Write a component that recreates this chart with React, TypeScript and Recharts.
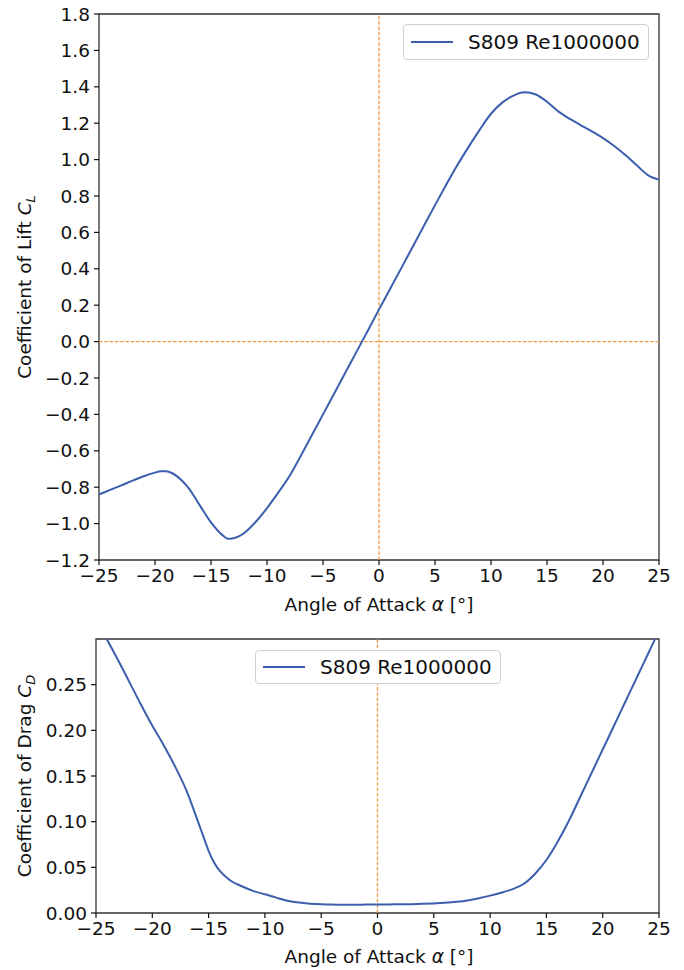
import React from 'react';
import {
  LineChart,
  Line,
  XAxis,
  YAxis,
  ReferenceLine,
  ReferenceArea,
  Legend,
} from 'recharts';

// angle of attack samples (deg)
const alphaLift = [
  -25, -24, -23, -22, -21, -20, -19.5, -19, -18.5, -18, -17.5, -17, -16, -15, -14, -13.5, -13, -12,
  -11, -10, -9, -8, -7, -6, -5, -4, -3, -2, -1, 0, 1, 2, 3, 4, 5, 6, 7, 8, 9, 10, 11, 12, 13, 14, 15,
  16, 17, 18, 19, 20, 21, 22, 23, 24, 25,
];
const liftCoeff = [
  -0.84, -0.815, -0.79, -0.764, -0.74, -0.72, -0.712, -0.712, -0.722, -0.742, -0.77, -0.805, -0.9,
  -0.993, -1.062, -1.083, -1.08, -1.05, -0.99, -0.915, -0.83, -0.74, -0.63, -0.515, -0.4, -0.285,
  -0.17, -0.055, 0.06, 0.177, 0.29, 0.405, 0.52, 0.635, 0.75, 0.862, 0.97, 1.07, 1.165, 1.252, 1.313,
  1.352, 1.37, 1.358, 1.318, 1.265, 1.225, 1.19, 1.155, 1.118, 1.075, 1.025, 0.97, 0.915, 0.89,
];

const alphaDrag = [
  -25, -24, -23, -22, -21, -20, -19, -18, -17, -16, -15.5, -15, -14.5, -14, -13.5, -13, -12, -11, -10,
  -9, -8, -7, -6, -5, -4, -3, -2, -1, 0, 1, 2, 3, 4, 5, 6, 7, 8, 9, 10, 11, 12, 13, 14, 15, 16, 17,
  18, 19, 20, 21, 22, 23, 24, 25,
];
const dragCoeff = [
  0.322, 0.299, 0.276, 0.252, 0.228, 0.205, 0.184, 0.161, 0.135, 0.102, 0.085, 0.068, 0.055, 0.046,
  0.04, 0.035, 0.029, 0.024, 0.0205, 0.0168, 0.0135, 0.0114, 0.0102, 0.0095, 0.0092, 0.0091, 0.0091,
  0.0092, 0.0093, 0.0094, 0.0095, 0.0097, 0.01, 0.0105, 0.0112, 0.0122, 0.0137, 0.0162, 0.019, 0.0222,
  0.0262, 0.032, 0.043, 0.058, 0.078, 0.101, 0.127, 0.153, 0.179, 0.205, 0.231, 0.257, 0.283, 0.309,
];

const alphaTicks = [-25, -20, -15, -10, -5, 0, 5, 10, 15, 20, 25];
const liftTicks = [-1.2, -1.0, -0.8, -0.6, -0.4, -0.2, 0, 0.2, 0.4, 0.6, 0.8, 1.0, 1.2, 1.4, 1.6, 1.8];
const dragTicks = [0, 0.05, 0.1, 0.15, 0.2, 0.25];

const seriesName = 'S809 Re1000000';

const liftData = alphaLift.map((a, i) => ({ alpha: a, cl: liftCoeff[i] }));
const dragData = alphaDrag.map((a, i) => ({ alpha: a, cd: dragCoeff[i] }));

const FONT = '"DejaVu Sans", sans-serif';
const BLUE = '#3c5fad';
const ORANGE = '#f39a45';
const INK = '#111';

const minus = (s: string) => s.replace('-', '\u2212');

const tickStyle = { fill: INK, fontSize: 18.5, fontFamily: FONT };

const LegendBox = ({ height }: { height: number }) => (
  <div
    style={{
      boxSizing: 'border-box',
      width: 246,
      height,
      border: '1px solid #d0d0d0',
      borderRadius: 4,
      background: '#fff',
      display: 'flex',
      alignItems: 'center',
      fontFamily: FONT,
      fontSize: 20,
      color: INK,
    }}
  >
    <svg width={50} height={10} style={{ marginLeft: 7 }}>
      <line x1={0} x2={42} y1={5} y2={5} stroke={BLUE} strokeWidth={2} />
    </svg>
    <span style={{ marginLeft: 7 }}>{seriesName}</span>
  </div>
);

const AlphaTitle = ({ y }: { y: number }) => (
  <text x={379} y={y} textAnchor="middle" fontFamily={FONT} fontSize={18.5} fill={INK}>
    Angle of Attack <tspan fontStyle="italic">α</tspan> [°]
  </text>
);

const CoeffTitle = ({ cy, name, sub }: { cy: number; name: string; sub: string }) => (
  <text
    transform={`translate(31, ${cy}) rotate(-90)`}
    textAnchor="middle"
    fontFamily={FONT}
    fontSize={18.5}
    fill={INK}
  >
    {name} <tspan fontStyle="italic">C</tspan>
    <tspan fontStyle="italic" fontSize={13} dy={4}>{sub}</tspan>
  </text>
);

export default function App() {
  return (
    <div style={{ position: 'absolute', left: 0, top: 0, width: 684, height: 970, background: '#fff' }}>
      {/* lift curve */}
      <div style={{ position: 'absolute', left: 0, top: 0 }}>
        <LineChart width={684} height={620} data={liftData} margin={{ top: 14, right: 25, bottom: 0, left: 0 }}>
          <XAxis
            dataKey="alpha"
            type="number"
            domain={[-25, 25]}
            ticks={alphaTicks}
            height={60}
            tick={tickStyle}
            tickFormatter={(v) => minus(String(v))}
            tickSize={5}
            tickMargin={4}
            axisLine={false}
            tickLine={{ stroke: INK, strokeWidth: 1.2 }}
          />
          <YAxis
            type="number"
            domain={[-1.2, 1.8]}
            ticks={liftTicks}
            width={99}
            tick={tickStyle}
            tickFormatter={(v) => minus(Number(v).toFixed(1))}
            tickSize={5}
            tickMargin={4}
            axisLine={false}
            tickLine={{ stroke: INK, strokeWidth: 1.2 }}
            interval={0}
          />
          <ReferenceLine y={0} stroke={ORANGE} strokeWidth={1.3} strokeDasharray="3.5 1.8" />
          <ReferenceLine x={0} stroke={ORANGE} strokeWidth={1.3} strokeDasharray="3.5 1.8" />
          <Line
            type="monotone"
            dataKey="cl"
            name={seriesName}
            stroke={BLUE}
            strokeWidth={2}
            dot={false}
            isAnimationActive={false}
          />
          <ReferenceArea x1={-25} x2={25} y1={-1.2} y2={1.8} fill="none" stroke="#333" strokeWidth={1.3} />
          <Legend
            layout="horizontal"
            verticalAlign="middle"
            align="center"
            content={() => <LegendBox height={36} />}
            wrapperStyle={{ top: 24, left: 403, width: 246, height: 36 }}
          />
        </LineChart>
      </div>

      {/* drag curve */}
      <div style={{ position: 'absolute', left: 0, top: 620 }}>
        <LineChart width={684} height={350} data={dragData} margin={{ top: 19, right: 25, bottom: 0, left: 0 }}>
          <XAxis
            dataKey="alpha"
            type="number"
            domain={[-25, 25]}
            ticks={alphaTicks}
            height={57}
            tick={tickStyle}
            tickFormatter={(v) => minus(String(v))}
            tickSize={5}
            tickMargin={4}
            axisLine={false}
            tickLine={{ stroke: INK, strokeWidth: 1.2 }}
          />
          <YAxis
            type="number"
            domain={[0, 0.3]}
            ticks={dragTicks}
            allowDataOverflow
            width={96}
            tick={tickStyle}
            tickFormatter={(v) => Number(v).toFixed(2)}
            tickSize={5}
            tickMargin={4}
            axisLine={false}
            tickLine={{ stroke: INK, strokeWidth: 1.2 }}
            interval={0}
          />
          <ReferenceLine x={0} stroke={ORANGE} strokeWidth={1.3} strokeDasharray="3.5 1.8" />
          <Line
            type="monotone"
            dataKey="cd"
            name={seriesName}
            stroke={BLUE}
            strokeWidth={2}
            dot={false}
            isAnimationActive={false}
          />
          <ReferenceArea x1={-25} x2={25} y1={0} y2={0.3} fill="none" stroke="#333" strokeWidth={1.3} />
          <Legend
            layout="horizontal"
            verticalAlign="middle"
            align="center"
            content={() => <LegendBox height={34} />}
            wrapperStyle={{ top: 30, left: 255, width: 246, height: 34 }}
          />
        </LineChart>
      </div>

      {/* axis titles */}
      <svg
        width={684}
        height={970}
        style={{ position: 'absolute', left: 0, top: 0, pointerEvents: 'none' }}
      >
        <AlphaTitle y={611} />
        <AlphaTitle y={963} />
        <CoeffTitle cy={287} name="Coefficient of Lift" sub="L" />
        <CoeffTitle cy={776} name="Coefficient of Drag" sub="D" />
      </svg>
    </div>
  );
}
